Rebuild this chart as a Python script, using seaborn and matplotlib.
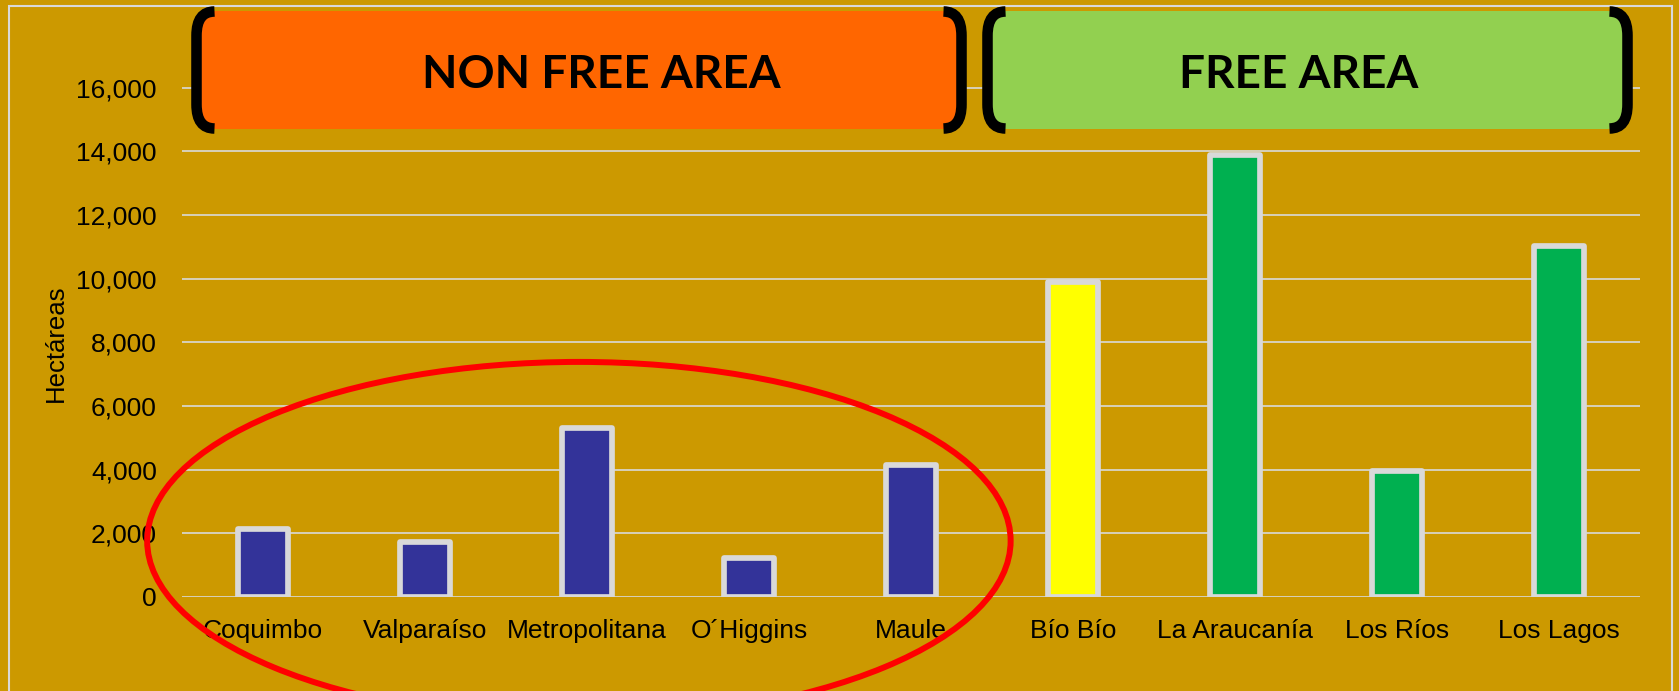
import matplotlib
matplotlib.use("Agg")
import matplotlib.pyplot as plt
import seaborn as sns
import numpy as np
from matplotlib.patches import Ellipse, FancyBboxPatch, PathPatch, Rectangle
from matplotlib.path import Path

regions = ["Coquimbo", "Valparaíso", "Metropolitana", "O´Higgins", "Maule",
           "Bío Bío", "La Araucanía", "Los Ríos", "Los Lagos"]
hectares = [2150, 1720, 5300, 1220, 4150, 9880, 13880, 3950, 11020]
bar_colors = ["#333399", "#333399", "#333399", "#333399", "#333399",
              "#FFFF00", "#00B050", "#00B050", "#00B050"]
y_ticks = [0, 2000, 4000, 6000, 8000, 10000, 12000, 14000, 16000]
group_labels = ["NON FREE AREA", "FREE AREA"]
group_colors = ["#FF6600", "#92D050"]

BG = "#CC9900"
LIGHT = "#D9D9D9"
W, H = 1679, 691

sns.set_theme(style="white")
plt.rcParams["font.family"] = ["Liberation Sans", "DejaVu Sans"]

fig = plt.figure(figsize=(W / 100, H / 100), dpi=100, facecolor=BG)
ax = fig.add_axes([182 / W, 1 - 597 / H, (1640 - 182) / W, (597 - 24) / H])
ax.set_facecolor(BG)

sns.barplot(x=regions, y=hectares, hue=regions, palette=bar_colors, legend=False,
            saturation=1, width=0.31, edgecolor=LIGHT, linewidth=4.1, ax=ax, zorder=3)
for p in ax.patches:
    p.set_joinstyle("round")

ax.set_xlim(-0.5, 8.5)
ax.set_ylim(0, 18000)
ax.set_yticks(y_ticks)
ax.set_yticklabels([f"{v:,}" for v in y_ticks])
ax.yaxis.grid(True, color=LIGHT, linewidth=1.2, zorder=0)
ax.xaxis.grid(False)
for s in ax.spines.values():
    s.set_visible(False)
ax.tick_params(axis="y", length=0, pad=18, labelsize=19, labelcolor="black")
ax.tick_params(axis="x", length=0, pad=16, labelsize=19, labelcolor="black")
ax.set_xlabel("")
ax.set_ylabel("Hectáreas", fontsize=18.5, color="black")
ax.yaxis.set_label_coords(-0.0865, 0.443)
ax.yaxis.label.set_va("center")

# red ellipse around non-free area
ell = Ellipse((1.95, 1765), width=5.33, height=11240, fill=False, edgecolor="#FF0000",
              linewidth=4.3, clip_on=False, zorder=10)
ax.add_patch(ell)

# outer border
T = fig.dpi_scale_trans
def P(px, py):
    return (px / 100.0, (H - py) / 100.0)

border = Rectangle(P(9, 760), (1672 - 9) / 100, (760 - 6) / 100, transform=T,
                   fill=False, edgecolor=LIGHT, linewidth=1.5, clip_on=False)
fig.patches.append(border)

# header boxes
def rounded_box(x0, x1, y0, y1, color):
    (bx, by) = P(x0, y1)
    fb = FancyBboxPatch((bx, by), (x1 - x0) / 100, (y1 - y0) / 100,
                        boxstyle="round,pad=0,rounding_size=0.2", transform=T,
                        facecolor=color, edgecolor="none", zorder=1)
    fig.patches.append(fb)

def bracket(xc, ytop, ybot, dx, ry):
    verts = [P(xc + dx, ytop), P(xc, ytop), P(xc, ytop + ry),
             P(xc, ybot - ry), P(xc, ybot), P(xc + dx, ybot)]
    codes = [Path.MOVETO, Path.CURVE3, Path.CURVE3, Path.LINETO, Path.CURVE3, Path.CURVE3]
    pp = PathPatch(Path(verts, codes), transform=T, fill=False, edgecolor="black",
                   linewidth=7.6, capstyle="butt", zorder=2)
    fig.patches.append(pp)

rounded_box(197, 961, 11, 129, group_colors[0])
rounded_box(988, 1627, 11, 129, group_colors[1])
bracket(196.5, 11.5, 128.5, 18, 24)
bracket(961.5, 11.5, 128.5, -18, 24)
bracket(987.5, 11.5, 128.5, 18, 24)
bracket(1627.5, 11.5, 128.5, -18, 24)

fig.text(601 / W, 1 - 75 / H, group_labels[0], ha="center", va="center",
         fontsize=33, fontweight="bold", family=["Lato", "DejaVu Sans"], color="black")
fig.text(1299 / W, 1 - 75 / H, group_labels[1], ha="center", va="center",
         fontsize=33, fontweight="bold", family=["Lato", "DejaVu Sans"], color="black")

fig.savefig("out.png", dpi=100, facecolor=BG)
